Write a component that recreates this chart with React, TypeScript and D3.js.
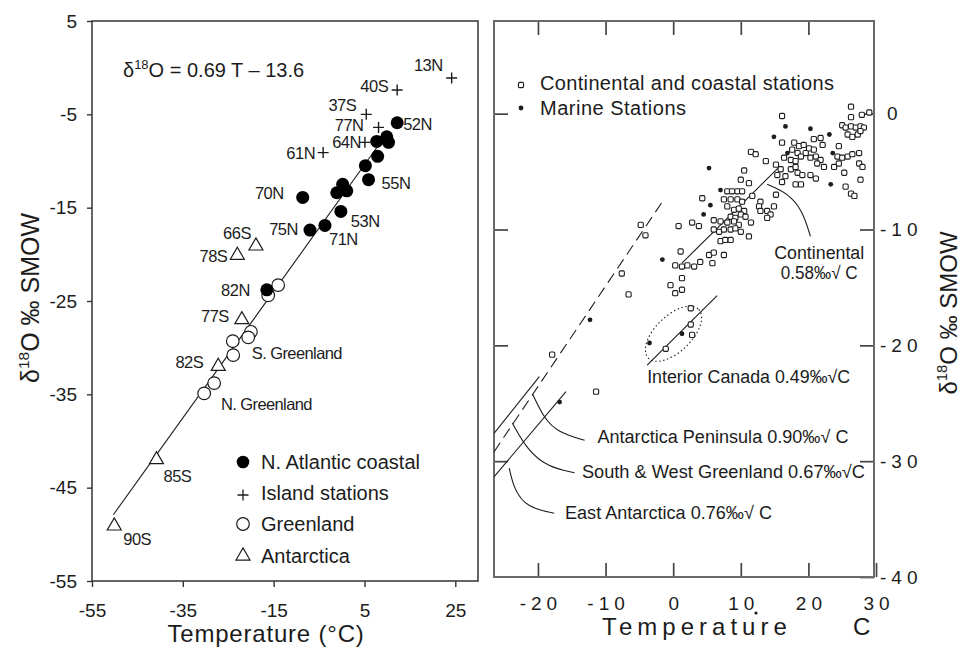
import React, { useEffect, useRef } from 'react';
import * as d3 from 'd3';

type Pt = [number, number];

const W = 966;
const H = 650;
const FONT = '"Liberation Sans", Arial, Helvetica, sans-serif';
const INK = '#1c1c1c';

// ---------- left panel: station means, T (°C) vs d18O (permil) ----------
const leftXTicks = [-55, -35, -15, 5, 25];
const leftYTicks = [5, -5, -15, -25, -35, -45, -55];

const atlanticCoastal = [
  { t: 12.2, d: -5.9, name: '52N' },
  { t: 7.7, d: -7.9 },
  { t: 9.9, d: -7.4 },
  { t: 10.3, d: -8.0 },
  { t: 7.9, d: -9.5 },
  { t: 5.2, d: -10.5 },
  { t: 5.9, d: -12.0, name: '55N' },
  { t: 0.2, d: -12.5 },
  { t: -1.1, d: -13.4 },
  { t: 1.1, d: -13.2 },
  { t: -0.2, d: -15.4, name: '53N' },
  { t: -8.6, d: -13.9, name: '70N' },
  { t: -3.7, d: -16.9, name: '71N' },
  { t: -7.0, d: -17.4, name: '75N' },
  { t: -16.5, d: -23.8, name: '82N' },
];

const islandStations = [
  { t: 24.2, d: -1.1, name: '13N' },
  { t: 12.2, d: -2.4, name: '40S' },
  { t: 5.4, d: -5.0, name: '37S' },
  { t: 8.1, d: -6.4, name: '77N' },
  { t: 5.1, d: -8.0, name: '64N' },
  { t: -4.1, d: -9.1, name: '61N' },
];

const greenlandStations: Pt[] = [
  [-14.0, -23.3], [-16.2, -24.4], [-20.0, -28.3], [-20.6, -28.9],
  [-24.0, -29.3], [-23.9, -30.8], [-28.1, -33.8], [-30.3, -34.9],
];

const antarcticStations = [
  { t: -18.9, d: -19.1, name: '66S' },
  { t: -23.0, d: -20.1, name: '78S' },
  { t: -22.0, d: -27.0, name: '77S' },
  { t: -27.2, d: -32.0, name: '82S' },
  { t: -40.8, d: -42.0, name: '85S' },
  { t: -50.1, d: -49.1, name: '90S' },
];

const fitLine: Pt[] = [[-50.3, -47.9], [8.4, -8.1]];

const regionNames = [
  { t: -19.8, d: -30.6, name: 'S. Greenland' },
  { t: -26.6, d: -36.0, name: 'N. Greenland' },
];

const leftLegend = ['N. Atlantic coastal', 'Island stations', 'Greenland', 'Antarctica'];

// where each station name sits relative to its marker: dx, dy, anchor
const nameOffset: Record<string, [number, number, string]> = {
  '13N': [-9, -13, 'end'],
  '40S': [-9, -4, 'end'],
  '37S': [-10, -9, 'end'],
  '77N': [-15, -2, 'end'],
  '64N': [-4, 0, 'end'],
  '61N': [-8, 0, 'end'],
  '52N': [6, 1, 'start'],
  '55N': [13, 3, 'start'],
  '53N': [10, 10, 'start'],
  '70N': [-19, -4, 'end'],
  '71N': [4, 14, 'start'],
  '75N': [-12, -1, 'end'],
  '82N': [-17, 0, 'end'],
  '66S': [-5, -13, 'end'],
  '78S': [-10, 1, 'end'],
  '77S': [-13, -4, 'end'],
  '82S': [-15, -4, 'end'],
  '85S': [7, 16, 'start'],
  '90S': [9, 13, 'start'],
};

// ---------- right panel: individual stations ----------
const rightXTicks = [-20, -10, 0, 10, 20, 30];
const rightYTicks = [0, -10, -20, -30, -40];

const continentalStations: Pt[] = [
  [26.3, 0.6], [29.0, 0.1], [27.9, -0.1], [16.1, -0.2], [26.3, -0.3],
  [25.0, -1.0], [25.5, -1.2], [26.3, -1.1], [27.0, -1.2], [27.7, -1.1], [28.2, -1.2],
  [25.8, -1.8], [26.5, -2.0], [27.3, -1.8], [27.7, -1.5],
  [16.1, -2.5], [17.9, -2.5], [18.6, -2.8], [19.3, -2.7], [20.8, -2.2], [21.8, -2.1], [22.1, -2.7],
  [20.1, -3.0], [20.8, -3.1], [19.6, -3.4], [17.6, -3.1], [18.4, -3.4], [18.9, -3.7],
  [16.4, -3.8], [17.4, -4.0], [18.1, -4.1], [20.3, -3.8], [21.1, -3.7], [21.8, -4.0], [21.3, -4.3],
  [24.5, -2.8], [24.3, -3.7], [25.0, -3.8], [25.8, -3.7], [26.5, -3.5], [27.5, -3.4],
  [22.3, -4.6], [23.8, -4.6], [24.5, -4.3], [27.5, -4.3], [28.0, -4.6], [25.3, -5.1], [27.7, -5.7],
  [15.2, -4.4], [15.9, -4.8], [15.4, -5.3], [16.6, -5.4], [16.1, -5.9], [17.4, -4.8], [18.1, -4.6],
  [18.4, -5.1], [19.1, -5.3], [18.1, -6.1], [18.9, -6.1], [20.3, -5.3], [21.1, -5.6],
  [25.5, -6.3], [26.3, -6.9], [26.8, -7.1], [15.2, -7.0],
  [11.5, -3.3], [12.2, -3.5], [13.7, -4.1], [10.5, -4.9], [10.0, -5.7], [11.2, -6.0],
  [8.0, -6.7], [8.7, -6.7], [9.5, -6.7], [10.2, -6.7], [7.5, -7.4], [8.5, -7.4], [9.5, -7.4], [10.2, -7.6],
  [11.7, -7.1], [12.9, -7.6], [12.7, -8.0], [4.3, -7.3],
  [8.0, -8.0], [9.0, -8.3], [9.7, -8.2], [10.5, -8.4], [8.5, -8.9], [9.2, -9.0], [10.0, -8.7], [10.7, -8.9],
  [13.9, -8.4], [14.4, -8.7], [14.9, -8.0], [12.9, -8.4], [13.9, -9.0],
  [6.0, -9.2], [7.0, -9.3], [2.8, -9.4], [3.8, -9.7], [8.0, -9.4], [9.0, -9.3], [9.7, -9.6], [11.5, -9.4],
  [6.0, -10.0], [6.8, -10.2], [7.5, -10.0], [8.5, -10.0], [9.2, -9.9], [10.0, -10.2], [11.2, -10.6],
  [0.8, -9.7], [-4.8, -9.6], [-4.1, -10.5],
  [1.1, -11.9], [0.3, -13.1], [1.3, -13.2], [2.1, -13.1], [3.1, -13.2], [4.0, -12.8],
  [5.3, -12.2], [6.0, -12.0], [7.5, -12.2], [5.8, -12.9],
  [1.3, -14.2], [-0.4, -14.8], [0.3, -15.5], [1.3, -15.2],
  [7.0, -11.0], [7.7, -10.9], [8.5, -10.9],
  [-7.6, -13.8], [-6.6, -15.6], [-17.9, -20.8], [-11.4, -24.0],
  [2.6, -16.8], [-1.1, -20.3], [2.6, -18.2], [2.8, -19.1],
];

const marineStations: Pt[] = [
  [16.6, -1.1], [20.3, -1.3], [23.1, -1.8], [14.9, -2.0], [16.9, -3.4], [23.3, -6.1], [23.6, -3.4],
  [5.3, -4.7], [7.0, -6.6], [4.5, -8.7], [5.5, -7.9], [-1.6, -12.6], [-12.3, -17.8],
  [-3.5, -19.8], [1.3, -19.0], [-16.8, -24.9],
];

const continentalLine: Pt[] = [[1.3, -12.9], [15.5, -4.7]];
const interiorCanadaLine: Pt[] = [[-3.85, -21.7], [6.5, -15.7]];
const peninsulaLine: Pt[] = [[-26.5, -29.2], [-1.6, -7.6]];
const greenlandLine: Pt[] = [[-26.5, -27.6], [-19.8, -22.7]];
const eastAntarcticaLine: Pt[] = [[-26.5, -31.35], [-15.85, -24.0]];
const interiorCanadaCentre: Pt = [0.05, -19.0];

const leaders: Pt[][] = [
  [[13.9, -6.1], [16.9, -6.85], [19.1, -8.3], [20.3, -10.6]],
  [[-20.8, -24.2], [-19.1, -26.3], [-17.1, -27.5], [-13.1, -28.2]],
  [[-23.8, -26.7], [-21.6, -29.0], [-18.6, -30.5], [-14.6, -31.0]],
  [[-24.25, -30.6], [-23.5, -32.5], [-21.6, -34.0], [-17.6, -34.5]],
];

const slopeNotes = [
  { t: 21.6, d: -12.0, text: 'Continental', anchor: 'middle', len: 90 },
  { t: 21.6, d: -13.7, text: '0.58‰√ C', anchor: 'middle', len: 77 },
  { t: -3.85, d: -22.7, text: 'Interior Canada 0.49‰√C', anchor: 'start', len: 203 },
  { t: -11.2, d: -27.9, text: 'Antarctica Peninsula  0.90‰√ C', anchor: 'start', len: 251 },
  { t: -13.5, d: -30.9, text: 'South & West Greenland  0.67‰√C', anchor: 'start', len: 283 },
  { t: -16.0, d: -34.4, text: 'East Antarctica  0.76‰√ C', anchor: 'start', len: 207 },
];

const rightLegend = ['Continental and coastal stations', 'Marine Stations'];

function titleY(g: any, x: number, y: number, size: number) {
  const t = g.append('text')
    .attr('transform', `translate(${x},${y}) rotate(-90)`)
    .attr('text-anchor', 'middle')
    .attr('font-size', size)
    .attr('fill', INK);
  t.append('tspan').text('δ');
  t.append('tspan').attr('font-size', size * 0.62).attr('dy', -size * 0.42).text('18');
  t.append('tspan').attr('dy', size * 0.42).text('O ‰ SMOW');
}

function drawLeft(svg: any) {
  const x = d3.scaleLinear().domain([-55, 30]).range([92, 478]);
  const y = d3.scaleLinear().domain([-55, 5]).range([581, 21]);
  const g = svg.append('g').attr('font-family', FONT);

  const xa = g.append('g')
    .attr('transform', `translate(0,${y(-55)})`)
    .call(d3.axisBottom(x).tickValues(leftXTicks).tickSize(6).tickPadding(17).tickFormat((d: any) => `${d}`));
  const ya = g.append('g')
    .attr('transform', `translate(${x(-55)},0)`)
    .call(d3.axisLeft(y).tickValues(leftYTicks).tickSize(5).tickPadding(10).tickFormat((d: any) => `${d}`));
  [xa, ya].forEach((a) => {
    a.select('.domain').remove();
    a.selectAll('line').attr('stroke', '#333').attr('stroke-width', 1.4);
    a.selectAll('text').attr('font-size', 19).attr('font-family', FONT).attr('fill', INK);
  });

  g.append('rect')
    .attr('x', x(-55)).attr('y', y(5))
    .attr('width', x(30) - x(-55)).attr('height', y(-55) - y(5))
    .attr('fill', 'none').attr('stroke', '#333').attr('stroke-width', 1.5);

  // regression line
  g.append('path')
    .attr('d', d3.line()(fitLine.map(([t, d]) => [x(t), y(d)])))
    .attr('stroke', INK).attr('stroke-width', 1.1).attr('fill', 'none');

  const tri = d3.symbol().type(d3.symbolTriangle).size(85);
  const plus = (px: number, py: number) => `M${px - 5.5},${py}H${px + 5.5}M${px},${py - 5.5}V${py + 5.5}`;

  g.selectAll('.grn').data(greenlandStations).enter().append('circle')
    .attr('cx', (p: Pt) => x(p[0])).attr('cy', (p: Pt) => y(p[1])).attr('r', 6.3)
    .attr('fill', '#fff').attr('stroke', INK).attr('stroke-width', 1.2);

  g.selectAll('.ant').data(antarcticStations).enter().append('path')
    .attr('d', tri)
    .attr('transform', (p: any) => `translate(${x(p.t)},${y(p.d)})`)
    .attr('fill', '#fff').attr('stroke', INK).attr('stroke-width', 1.2);

  g.selectAll('.atl').data(atlanticCoastal).enter().append('circle')
    .attr('cx', (p: any) => x(p.t)).attr('cy', (p: any) => y(p.d)).attr('r', 6.5)
    .attr('fill', '#000');

  g.selectAll('.isl').data(islandStations).enter().append('path')
    .attr('d', (p: any) => plus(x(p.t), y(p.d)))
    .attr('stroke', INK).attr('stroke-width', 1.4);

  const named = [...atlanticCoastal, ...islandStations, ...antarcticStations].filter((p: any) => p.name);
  g.selectAll('.nm').data(named).enter().append('text')
    .attr('x', (p: any) => x(p.t) + nameOffset[p.name][0])
    .attr('y', (p: any) => y(p.d) + nameOffset[p.name][1])
    .attr('dy', '0.36em')
    .attr('text-anchor', (p: any) => nameOffset[p.name][2])
    .attr('font-size', 16.5).attr('letter-spacing', -0.5).attr('fill', INK)
    .text((p: any) => p.name);

  g.selectAll('.rg').data(regionNames).enter().append('text')
    .attr('x', (p: any) => x(p.t)).attr('y', (p: any) => y(p.d))
    .attr('dy', '0.36em').attr('font-size', 16.5).attr('letter-spacing', -0.6).attr('fill', INK)
    .text((p: any) => p.name);

  // equation
  const eq = g.append('text').attr('x', 123).attr('y', 77).attr('font-size', 20).attr('fill', INK);
  eq.append('tspan').text('δ');
  eq.append('tspan').attr('font-size', 13).attr('dy', -8).text('18');
  eq.append('tspan').attr('dy', 8).text('O = 0.69 T – 13.6');

  // legend
  const rowY = [462, 493, 524, 556];
  const lg = g.append('g');
  lg.append('circle').attr('cx', 243).attr('cy', rowY[0]).attr('r', 6.3).attr('fill', '#000');
  lg.append('path').attr('d', plus(243, rowY[1] + 2)).attr('stroke', INK).attr('stroke-width', 1.3);
  lg.append('circle').attr('cx', 243).attr('cy', rowY[2]).attr('r', 6.3)
    .attr('fill', '#fff').attr('stroke', INK).attr('stroke-width', 1.2);
  lg.append('path').attr('d', tri).attr('transform', `translate(243,${rowY[3]})`)
    .attr('fill', '#fff').attr('stroke', INK).attr('stroke-width', 1.2);
  lg.selectAll('text').data(leftLegend).enter().append('text')
    .attr('x', 261).attr('y', (_: string, i: number) => rowY[i]).attr('dy', '0.36em')
    .attr('font-size', 20).attr('fill', INK)
    .text((s: string) => s);

  g.append('text').attr('x', 266).attr('y', 642).attr('text-anchor', 'middle')
    .attr('font-size', 24).attr('letter-spacing', 0.8).attr('fill', INK)
    .text('Temperature (°C)');
  titleY(g, 39, 298, 25);
}

function drawRight(svg: any) {
  const x = d3.scaleLinear().domain([-26.5, 29.7]).range([494, 874]);
  const y = d3.scaleLinear().domain([-40, 8]).range([577, 21]);
  const g = svg.append('g').attr('font-family', FONT);

  const inner = [-20, -10, 0, 10, 20];
  const bottom = g.append('g').attr('transform', `translate(0,${y(-40)})`)
    .call(d3.axisBottom(x).tickValues(rightXTicks).tickSize(-14).tickPadding(20).tickFormat((d: any) => `${d}`));
  const top = g.append('g').attr('transform', `translate(0,${y(8)})`)
    .call(d3.axisTop(x).tickValues(inner).tickSize(-14).tickFormat(() => ''));
  const left = g.append('g').attr('transform', `translate(${x(-26.5)},0)`)
    .call(d3.axisLeft(y).tickValues([0, -10, -20, -30]).tickSize(-14).tickFormat(() => ''));
  const right = g.append('g').attr('transform', `translate(${x(29.7)},0)`)
    .call(d3.axisRight(y).tickValues(rightYTicks).tickSize(-14).tickPadding(6).tickFormat((d: any) => `${d}`));
  [bottom, top, left, right].forEach((a) => {
    a.select('.domain').remove();
    a.selectAll('line').attr('stroke', '#444').attr('stroke-width', 1.7);
    a.selectAll('text').attr('font-size', 19).attr('font-family', FONT).attr('fill', INK).attr('letter-spacing', 5);
  });
  bottom.selectAll('text').attr('dx', 2.5);
  right.selectAll('text').filter((d: any) => d === 0).attr('x', 13);

  g.append('rect')
    .attr('x', x(-26.5)).attr('y', y(8))
    .attr('width', x(29.7) - x(-26.5)).attr('height', y(-40) - y(8))
    .attr('fill', 'none').attr('stroke', '#6a6a6a').attr('stroke-width', 2);

  const clip = g.append('clipPath').attr('id', 'rclip');
  clip.append('rect').attr('x', x(-26.5)).attr('y', y(8))
    .attr('width', x(29.7) - x(-26.5)).attr('height', y(-40) - y(8));
  const plot = g.append('g').attr('clip-path', 'url(#rclip)');

  const line = d3.line<Pt>().x((p) => x(p[0])).y((p) => y(p[1]));
  const solid = [continentalLine, interiorCanadaLine, greenlandLine, eastAntarcticaLine];
  solid.forEach((l) => {
    plot.append('path').attr('d', line(l)).attr('stroke', INK).attr('stroke-width', 1.1).attr('fill', 'none');
  });
  plot.append('path').attr('d', line(peninsulaLine))
    .attr('stroke', INK).attr('stroke-width', 1.1).attr('stroke-dasharray', '11,6').attr('fill', 'none');

  // dotted ellipse around the interior Canada stations
  plot.append('ellipse')
    .attr('cx', x(interiorCanadaCentre[0])).attr('cy', y(interiorCanadaCentre[1]))
    .attr('rx', 35).attr('ry', 18)
    .attr('transform', `rotate(-44 ${x(interiorCanadaCentre[0])} ${y(interiorCanadaCentre[1])})`)
    .attr('fill', 'none').attr('stroke', INK).attr('stroke-width', 1.1).attr('stroke-dasharray', '1.5,2.5');

  const curve = d3.line<Pt>().x((p) => x(p[0])).y((p) => y(p[1])).curve(d3.curveBasis);
  leaders.forEach((l) => {
    plot.append('path').attr('d', curve(l)).attr('stroke', INK).attr('stroke-width', 1.1).attr('fill', 'none');
  });

  plot.selectAll('.cs').data(continentalStations).enter().append('rect')
    .attr('x', (p: Pt) => x(p[0]) - 2.6).attr('y', (p: Pt) => y(p[1]) - 2.6)
    .attr('width', 5.2).attr('height', 5.2).attr('rx', 1.3)
    .attr('fill', '#fff').attr('stroke', INK).attr('stroke-width', 1.1);
  plot.selectAll('.ms').data(marineStations).enter().append('circle')
    .attr('cx', (p: Pt) => x(p[0])).attr('cy', (p: Pt) => y(p[1])).attr('r', 2.4)
    .attr('fill', INK);

  g.selectAll('.note').data(slopeNotes).enter().append('text')
    .attr('x', (n: any) => x(n.t)).attr('y', (n: any) => y(n.d))
    .attr('dy', '0.36em').attr('text-anchor', (n: any) => n.anchor)
    .attr('font-size', 18).attr('fill', INK)
    .attr('textLength', (n: any) => n.len).attr('lengthAdjust', 'spacingAndGlyphs')
    .text((n: any) => n.text);

  // legend
  g.append('rect').attr('x', 518.4).attr('y', 82.4).attr('width', 5.2).attr('height', 5.2).attr('rx', 1.3)
    .attr('fill', '#fff').attr('stroke', INK).attr('stroke-width', 1.1);
  g.append('circle').attr('cx', 521).attr('cy', 108).attr('r', 2.4).attr('fill', INK);
  g.append('text').attr('x', 540).attr('y', 83).attr('dy', '0.36em').attr('font-size', 20).attr('fill', INK)
    .attr('textLength', 294).attr('lengthAdjust', 'spacing').text(rightLegend[0]);
  g.append('text').attr('x', 540).attr('y', 108).attr('dy', '0.36em').attr('font-size', 20).attr('fill', INK)
    .attr('textLength', 146).attr('lengthAdjust', 'spacing').text(rightLegend[1]);

  // axis titles
  g.append('text').attr('x', 602).attr('y', 635).attr('font-size', 24).attr('letter-spacing', 5)
    .attr('fill', INK).text('Temperature');
  g.append('circle').attr('cx', 756).attr('cy', 613).attr('r', 1.6).attr('fill', INK);
  g.append('text').attr('x', 853).attr('y', 635).attr('font-size', 24).attr('fill', INK).text('C');
  titleY(g, 957, 313, 24);
}

export default function App() {
  const svgRef = useRef<SVGSVGElement>(null);

  useEffect(() => {
    const svg = d3.select(svgRef.current);
    svg.selectAll('*').remove();
    svg.attr('width', W).attr('height', H);
    svg.append('rect').attr('width', W).attr('height', H).attr('fill', '#fff');
    drawLeft(svg);
    drawRight(svg);
  }, []);

  return (
    <svg
      ref={svgRef}
      width={W}
      height={H}
      style={{ position: 'absolute', left: 0, top: 0, display: 'block', background: '#fff' }}
    />
  );
}
